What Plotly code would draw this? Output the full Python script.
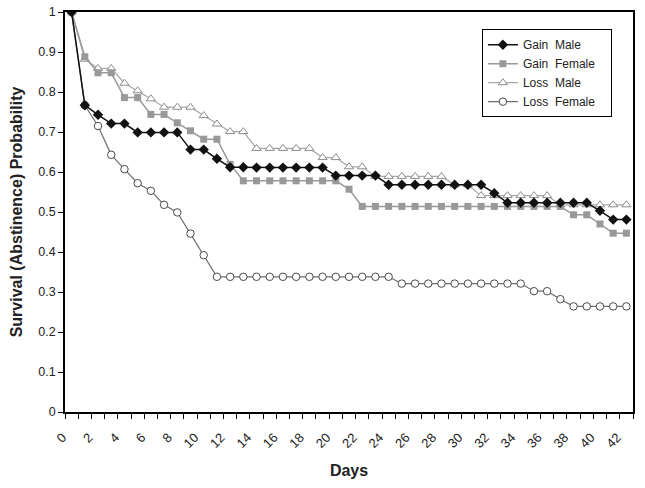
import plotly.graph_objects as go

days = list(range(43))

gain_male = [1.0, 0.767, 0.743, 0.721, 0.721, 0.699, 0.699, 0.699, 0.699, 0.656, 0.656,
             0.633, 0.612, 0.612, 0.611, 0.611, 0.611, 0.611, 0.611, 0.611, 0.591, 0.591,
             0.591, 0.591, 0.568, 0.568, 0.568, 0.568, 0.568, 0.568, 0.568, 0.568, 0.547,
             0.523, 0.523, 0.523, 0.523, 0.523, 0.523, 0.523, 0.503, 0.481, 0.481]
gain_female = [1.0, 0.888, 0.848, 0.848, 0.786, 0.786, 0.744, 0.744, 0.723, 0.703, 0.682,
               0.682, 0.619, 0.578, 0.578, 0.578, 0.578, 0.578, 0.578, 0.578, 0.578, 0.557,
               0.514, 0.514, 0.514, 0.514, 0.514, 0.514, 0.514, 0.514, 0.514, 0.514, 0.514,
               0.514, 0.514, 0.514, 0.514, 0.514, 0.493, 0.493, 0.470, 0.447, 0.447]
loss_male = [1.0, 0.882, 0.859, 0.859, 0.822, 0.803, 0.783, 0.762, 0.762, 0.762, 0.741,
             0.720, 0.701, 0.701, 0.659, 0.659, 0.659, 0.659, 0.659, 0.636, 0.636, 0.613,
             0.613, 0.589, 0.589, 0.589, 0.589, 0.589, 0.589, 0.568, 0.568, 0.541, 0.541,
             0.541, 0.541, 0.541, 0.541, 0.518, 0.518, 0.518, 0.518, 0.518, 0.518]
loss_female = [1.0, 0.767, 0.715, 0.643, 0.607, 0.572, 0.553, 0.518, 0.499, 0.446, 0.392,
               0.338, 0.338, 0.338, 0.338, 0.338, 0.338, 0.338, 0.338, 0.338, 0.338, 0.338,
               0.338, 0.338, 0.338, 0.321, 0.321, 0.321, 0.321, 0.321, 0.321, 0.321, 0.321,
               0.321, 0.321, 0.302, 0.302, 0.282, 0.264, 0.264, 0.264, 0.264, 0.264]

x_tick_vals = list(range(0, 43, 2))
x_tick_text = [str(v) for v in x_tick_vals]
y_tick_vals = [i / 10 for i in range(11)]
y_tick_text = ["0", "0.1", "0.2", "0.3", "0.4", "0.5", "0.6", "0.7", "0.8", "0.9", "1"]

FONT = "Liberation Sans, Arial, sans-serif"

fig = go.Figure()
fig.add_trace(go.Scatter(
    x=days, y=loss_female, name="Loss\u00a0 Female\u00a0\u00a0\u00a0", mode="lines+markers",
    line=dict(color="#6e6e6e", width=1.2),
    marker=dict(symbol="circle", size=7.5, color="white", line=dict(color="#4a4a4a", width=1))))
fig.add_trace(go.Scatter(
    x=days, y=loss_male, name="Loss\u00a0 Male", mode="lines+markers",
    line=dict(color="#a8a8a8", width=1.2),
    marker=dict(symbol="triangle-up", size=8, color="white", line=dict(color="#8c8c8c", width=1))))
fig.add_trace(go.Scatter(
    x=days, y=gain_female, name="Gain\u00a0 Female", mode="lines+markers",
    line=dict(color="#999999", width=1.5),
    marker=dict(symbol="square", size=7, color="#999999")))
fig.add_trace(go.Scatter(
    x=days, y=gain_male, name="Gain\u00a0 Male", mode="lines+markers",
    line=dict(color="#111111", width=1.5),
    marker=dict(symbol="diamond", size=8, color="#111111")))

fig.update_layout(
    width=645, height=488,
    margin=dict(l=65, r=12, t=12, b=76),
    paper_bgcolor="white", plot_bgcolor="white",
    font=dict(family=FONT, size=12, color="#222222"),
    showlegend=True,
    legend=dict(x=0.734, y=0.957, xanchor="left", yanchor="top",
                bordercolor="black", borderwidth=1, bgcolor="white",
                traceorder="reversed", font=dict(size=12, family=FONT),
                itemwidth=30, tracegroupgap=0),
    xaxis=dict(range=[-0.5, 42.5], tickmode="array", tickvals=x_tick_vals, ticktext=x_tick_text,
               tickangle=-45, ticks="", showgrid=False, zeroline=False, automargin=False,
               tickfont=dict(size=13), ticklabelshift=-9, ticklabelstandoff=11,
               showline=True, linecolor="black", linewidth=1.5, mirror=True,
               minor=dict(tickmode="linear", tick0=-0.5, dtick=1, ticks="outside",
                          ticklen=5, tickcolor="black", showgrid=False),
               title=dict(text="<b>Days</b>", font=dict(size=16, family=FONT, color="#222"), standoff=15)),
    yaxis=dict(range=[0, 1], tickmode="array", tickvals=y_tick_vals, ticktext=y_tick_text,
               ticks="outside", ticklen=5, tickcolor="black", showgrid=False, zeroline=False,
               automargin=False, tickfont=dict(size=12.5), ticklabeloverflow="allow",
               showline=True, linecolor="black", linewidth=1.5, mirror=True,
               title=dict(text="<b>Survival (Abstinence) Probability</b>",
                          font=dict(size=16, family=FONT, color="#222"), standoff=12)),
)

fig.write_html("out.html", config={"displayModeBar": False},
               post_script="document.body.style.margin='0';")
